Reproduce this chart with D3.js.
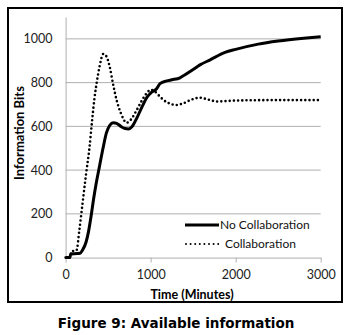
<!DOCTYPE html>
<html><head><meta charset="utf-8">
<script src="https://cdn.jsdelivr.net/npm/d3@7"></script>
<style>body{margin:0;background:#fff;}svg{display:block;}</style>
</head><body>
<svg id="c" width="350" height="335"></svg>
<script>
const xTicks = [0, 1000, 2000, 3000];
const yTicks = [0, 200, 400, 600, 800, 1000];
const seriesNames = ["No Collaboration", "Collaboration"];
const noCollab = [[0,0],[50,0],[60,15],[100,18],[170,20],[200,35],[240,70],[270,120],[300,190],[330,270],[360,340],[400,420],[440,500],[480,570],[520,605],[560,617],[600,614],[650,600],[700,590],[740,588],[780,598],[840,640],[900,690],[960,735],[1000,752],[1070,772],[1110,795],[1190,808],[1250,813],[1345,822],[1400,835],[1500,860],[1580,881],[1700,904],[1875,938],[2000,952],[2266,976],[2500,990],[2800,1003],[3000,1010]];
const collab = [[0,0],[50,0],[70,30],[100,30],[130,35],[160,120],[200,250],[240,380],[280,500],[310,620],[340,730],[370,810],[400,875],[443,931],[480,920],[520,870],[560,790],[600,720],[650,660],[718,617],[770,632],[830,670],[900,720],[960,755],[1000,767],[1040,762],[1100,740],[1150,721],[1220,705],[1306,698],[1380,705],[1480,722],[1580,731],[1680,722],[1780,714],[2000,718],[2400,720],[3000,720]];

const svg = d3.select("#c");
const font = "Lato, 'Open Sans', sans-serif";
const L = 65.6, R = 320.7, B = 257.6, T = 17;
const x = d3.scaleLinear().domain([0,3000]).range([L,R]);
const y = d3.scaleLinear().domain([0,1100]).range([B,T]);

svg.append("rect").attr("x",8).attr("y",8).attr("width",334).attr("height",294)
  .attr("fill","none").attr("stroke","#000").attr("stroke-width",2);

svg.append("g").selectAll("line").data(yTicks.filter(d=>d>0)).join("line")
  .attr("x1",L).attr("x2",R).attr("y1",d=>y(d)).attr("y2",d=>y(d))
  .attr("stroke","#b0b0b0").attr("stroke-width",1);

const ya = svg.append("g").attr("transform",`translate(${L},0)`)
  .call(d3.axisLeft(y).tickValues(yTicks).tickFormat(d3.format("d")).tickSize(0).tickPadding(13));
ya.select(".domain").attr("stroke","#b0b0b0");
ya.selectAll("text").attr("font-family",font).attr("font-size",12.5).attr("fill","#222");

const xa = svg.append("g").attr("transform",`translate(0,${B})`)
  .call(d3.axisBottom(x).tickValues(xTicks).tickFormat(d3.format("d")).tickSize(5).tickPadding(8).tickSizeOuter(0));
xa.select(".domain").attr("stroke","#b0b0b0");
xa.selectAll(".tick line").attr("stroke","#b0b0b0");
xa.selectAll("text").attr("font-family",font).attr("font-size",12.5).attr("fill","#222");

const line = d3.line().x(d=>x(d[0])).y(d=>y(d[1])).curve(d3.curveMonotoneX);
svg.append("path").datum(noCollab).attr("d",line).attr("fill","none")
  .attr("stroke","#000").attr("stroke-width",3);
svg.append("path").datum(collab).attr("d",line).attr("fill","none")
  .attr("stroke","#000").attr("stroke-width",2.6).attr("stroke-linecap","round").attr("stroke-dasharray","0,4.2");

const lg = svg.append("g");
lg.append("line").attr("x1",185).attr("x2",219).attr("y1",225).attr("y2",225)
  .attr("stroke","#000").attr("stroke-width",3);
lg.append("text").attr("x",220).attr("y",229).text(seriesNames[0])
  .attr("font-family",font).attr("font-size",12).attr("fill","#111");
lg.append("line").attr("x1",186).attr("x2",219).attr("y1",244).attr("y2",244)
  .attr("stroke","#000").attr("stroke-width",2).attr("stroke-linecap","round").attr("stroke-dasharray","0,4.6");
lg.append("text").attr("x",225).attr("y",248).text(seriesNames[1])
  .attr("font-family",font).attr("font-size",12).attr("fill","#111");

svg.append("text").attr("x",192).attr("y",299).attr("text-anchor","middle")
  .attr("font-family",font).attr("font-weight","bold").attr("font-size",12.5).text("Time (Minutes)");
svg.append("text").attr("transform","translate(24,133) rotate(-90)").attr("text-anchor","middle")
  .attr("font-family",font).attr("font-weight","bold").attr("font-size",13).text("Information Bits");
svg.append("text").attr("x",176).attr("y",328).attr("text-anchor","middle")
  .attr("font-family","'DejaVu Sans', Verdana, sans-serif").attr("font-weight","bold").attr("font-size",13.5)
  .text("Figure 9: Available information");
</script>
</body></html>
